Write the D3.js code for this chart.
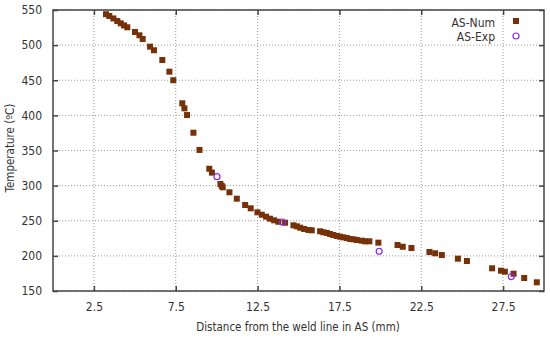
<!DOCTYPE html>
<html>
<head>
<meta charset="utf-8">
<script src="https://cdn.jsdelivr.net/npm/d3@7"></script>
<style>
  body { margin: 0; background: white; }
  svg { display: block; }
  text { font-family: "DejaVu Sans Condensed", "DejaVu Sans", sans-serif; fill: #333; }
</style>
</head>
<body>
<svg id="chart" width="550" height="338"></svg>
<script>
// numerical results (distance mm, temperature C)
let numDist = [3.24, 3.44, 3.69, 3.93, 4.14, 4.34, 4.54, 5.01, 5.28, 5.48, 5.93, 6.17, 6.68, 7.11, 7.35,
	7.90, 8.03, 8.19, 8.58, 8.95, 9.55, 9.71, 10.23, 10.31, 10.37, 10.78, 11.23, 11.74, 12.08, 12.49,
	12.76, 13.02, 13.26, 13.51, 13.77, 14.18, 14.69, 14.90, 15.10, 15.34, 15.61, 15.81, 16.32, 16.52,
	16.73, 16.93, 17.13, 17.34, 17.54, 17.74, 17.95, 18.15, 18.36, 18.56, 18.87, 19.07, 19.33, 19.88,
	21.05, 21.37, 21.90, 23.00, 23.35, 23.76, 24.74, 25.29, 26.83, 27.37, 27.61, 28.14, 28.79, 29.56];
let numTemp = [544, 541.5, 538, 534.3, 531, 528, 525.4, 518.7, 514, 508.7, 497.8, 492.7, 478.8, 462.2, 450,
	417.2, 410, 400.5, 375.3, 350.8, 324, 318.5, 302.3, 299.5, 297.6, 290.5, 281.4, 272.4, 267.7, 262,
	258.6, 255.8, 252.9, 250.6, 248.6, 247.2, 243.5, 242.1, 240.1, 238.3, 236.8, 236.4, 235, 233.6,
	232.6, 231.1, 229.7, 228.3, 227.3, 226.4, 225.4, 224, 223.6, 222.6, 221.6, 220.7, 220.7, 218.8,
	215.5, 213, 211.2, 205.5, 203.7, 201.2, 196, 192.7, 182.3, 178.9, 177.5, 174.6, 168.5, 162.4];

// experimental points
let expDist = [10.02, 14.02, 19.93, 28.0];
let expTemp = [312.7, 248.2, 206.5, 170.5];

let xTicks = [2.5, 7.5, 12.5, 17.5, 22.5, 27.5];
let yTicks = [150, 200, 250, 300, 350, 400, 450, 500, 550];
let seriesNames = ["AS-Num", "AS-Exp"];

let plotLeft = 53, plotRight = 544, plotTop = 10, plotBottom = 291;
let numColor = "#773108", expColor = "#8a2be2";

let svg = d3.select("#chart");

let x = d3.scaleLinear().domain([0, 30]).range([plotLeft, plotRight]);
let y = d3.scaleLinear().domain([150, 550]).range([plotBottom, plotTop]);

// grid
svg.append("g")
	.selectAll("line")
	.data(xTicks)
	.enter().append("line")
	.attr("x1", function(d) { return x(d); })
	.attr("x2", function(d) { return x(d); })
	.attr("y1", plotTop)
	.attr("y2", plotBottom)
	.attr("stroke", "#999")
	.attr("stroke-width", 1)
	.attr("stroke-dasharray", "1,2");

svg.append("g")
	.selectAll("line")
	.data(yTicks)
	.enter().append("line")
	.attr("x1", plotLeft)
	.attr("x2", plotRight)
	.attr("y1", function(d) { return y(d); })
	.attr("y2", function(d) { return y(d); })
	.attr("stroke", "#999")
	.attr("stroke-width", 1)
	.attr("stroke-dasharray", "1,2");

// axes, ticks pointing inward on all four sides
let axisStyle = function(g) {
	g.select(".domain").remove();
	g.selectAll(".tick line").attr("stroke", "#444").attr("stroke-width", 1.5);
	g.selectAll(".tick text").style("font-size", "12px").attr("fill", "#333");
};

svg.append("g")
	.attr("transform", "translate(0," + plotBottom + ")")
	.call(d3.axisBottom(x).tickValues(xTicks).tickSizeInner(-5).tickPadding(11).tickFormat(d3.format(".1f")))
	.call(axisStyle);

svg.append("g")
	.attr("transform", "translate(0," + plotTop + ")")
	.call(d3.axisTop(x).tickValues(xTicks).tickSizeInner(-5).tickFormat(""))
	.call(axisStyle);

svg.append("g")
	.attr("transform", "translate(" + plotLeft + ",0)")
	.call(d3.axisLeft(y).tickValues(yTicks).tickSizeInner(-5).tickPadding(11))
	.call(axisStyle);

svg.append("g")
	.attr("transform", "translate(" + plotRight + ",0)")
	.call(d3.axisRight(y).tickValues(yTicks).tickSizeInner(-5).tickFormat(""))
	.call(axisStyle);

// frame
svg.append("rect")
	.attr("x", plotLeft)
	.attr("y", plotTop)
	.attr("width", plotRight - plotLeft)
	.attr("height", plotBottom - plotTop)
	.attr("fill", "none")
	.attr("stroke", "#444")
	.attr("stroke-width", 1.5);

// numerical squares
svg.append("g")
	.selectAll("rect")
	.data(numDist)
	.enter().append("rect")
	.attr("x", function(d) { return x(d) - 3; })
	.attr("y", function(d, i) { return y(numTemp[i]) - 3; })
	.attr("width", 6)
	.attr("height", 6)
	.attr("fill", numColor);

// experimental circles
svg.append("g")
	.selectAll("circle")
	.data(expDist)
	.enter().append("circle")
	.attr("cx", function(d) { return x(d); })
	.attr("cy", function(d, i) { return y(expTemp[i]); })
	.attr("r", 3)
	.attr("fill", "none")
	.attr("stroke", expColor)
	.attr("stroke-width", 1.2);

// legend
svg.append("text")
	.attr("x", 495)
	.attr("y", 23)
	.attr("dy", "0.35em")
	.style("text-anchor", "end")
	.style("font-size", "12px")
	.text(seriesNames[0]);

svg.append("rect")
	.attr("x", 513)
	.attr("y", 18)
	.attr("width", 6)
	.attr("height", 6)
	.attr("fill", numColor);

svg.append("text")
	.attr("x", 495)
	.attr("y", 37)
	.attr("dy", "0.35em")
	.style("text-anchor", "end")
	.style("font-size", "12px")
	.text(seriesNames[1]);

svg.append("circle")
	.attr("cx", 516)
	.attr("cy", 36)
	.attr("r", 3)
	.attr("fill", "none")
	.attr("stroke", expColor)
	.attr("stroke-width", 1.2);

// axis labels
svg.append("text")
	.attr("x", 298)
	.attr("y", 327)
	.attr("dy", "0.35em")
	.style("text-anchor", "middle")
	.style("font-size", "11.5px")
	.text("Distance from the weld line in AS (mm)");

svg.append("text")
	.attr("x", -148)
	.attr("y", 10)
	.attr("dy", "0.35em")
	.attr("transform", "rotate(-90)")
	.style("text-anchor", "middle")
	.style("font-size", "11.5px")
	.text("Temperature (ºC)");
</script>
</body>
</html>
